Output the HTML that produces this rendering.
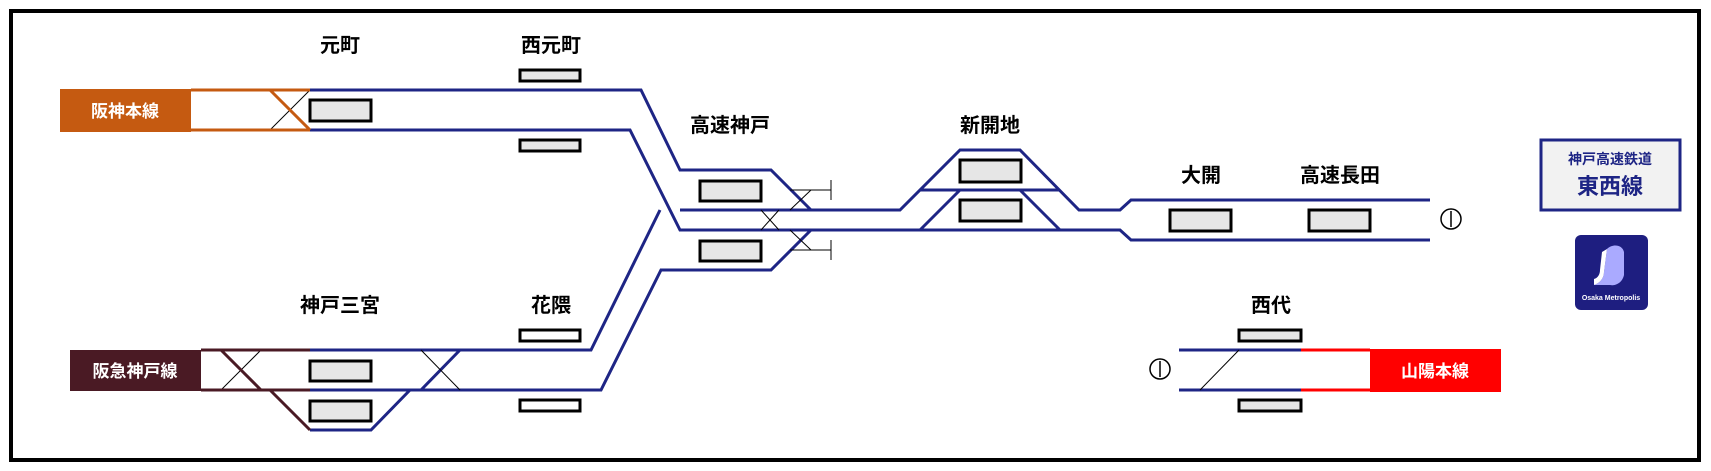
<!DOCTYPE html>
<html><head><meta charset="utf-8"><style>
html,body{margin:0;padding:0;background:#fff;}
svg{display:block;}
text{font-family:"Liberation Sans","Noto Sans CJK JP",sans-serif;font-weight:bold;}
</style></head><body>
<svg width="1711" height="471" viewBox="0 0 1711 471" xmlns="http://www.w3.org/2000/svg">
<rect x="11" y="11" width="1688" height="449" fill="#fff" stroke="#000" stroke-width="4"/>
<g fill="none" stroke="#1E2585" stroke-width="3">
<polyline points="310,90 641,90 680,170 771,170 811,210"/>
<polyline points="310,130 630,130 680,230 1120,230 1131,240 1430,240"/>
<polyline points="680,210 900,210 960,150 1020,150 1079,210 1120,210 1131,200 1430,200"/>
<polyline points="811,230 771,270 661,270 601,390 310,390"/>
<polyline points="310,350 591,350 660,210"/>
<line x1="920" y1="190" x2="1060" y2="190"/>
<line x1="960" y1="190" x2="920" y2="230"/>
<line x1="1020" y1="190" x2="1060" y2="230"/>
<polyline points="310,430 371,430 410,390"/>
<line x1="421" y1="390" x2="460" y2="350"/>
<line x1="1179" y1="350" x2="1301" y2="350"/>
<line x1="1179" y1="390" x2="1301" y2="390"/>
</g>
<g fill="none" stroke="#000" stroke-width="1">
<line x1="270" y1="130" x2="310" y2="90"/>
<line x1="790" y1="210" x2="811" y2="190"/>
<line x1="790" y1="230" x2="811" y2="250"/>
<line x1="761" y1="210" x2="779" y2="230"/>
<line x1="761" y1="230" x2="779" y2="210"/>
<line x1="221" y1="390" x2="261" y2="350"/>
<line x1="421" y1="350" x2="460" y2="390"/>
<line x1="1200" y1="390" x2="1239" y2="350"/>
<line x1="790" y1="190" x2="831" y2="190"/>
<line x1="831" y1="180" x2="831" y2="200"/>
<line x1="790" y1="250" x2="831" y2="250"/>
<line x1="831" y1="240" x2="831" y2="260"/>
</g>
<!-- Hanshin -->
<rect x="60" y="89" width="131" height="43" fill="#C55A11"/>
<g stroke="#C55A11" stroke-width="3" fill="none">
<line x1="191" y1="90" x2="310" y2="90"/><line x1="191" y1="130" x2="310" y2="130"/>
<line x1="270" y1="90" x2="310" y2="130"/>
</g>
<text x="125" y="117" fill="#fff" font-size="17" text-anchor="middle">阪神本線</text>
<!-- Hankyu -->
<rect x="70" y="350" width="131" height="41" fill="#4A1A24"/>
<g stroke="#4A1A24" stroke-width="3" fill="none">
<line x1="201" y1="350" x2="310" y2="350"/><line x1="201" y1="390" x2="310" y2="390"/>
<line x1="221" y1="350" x2="261" y2="390"/><line x1="270" y1="390" x2="310" y2="430"/>
</g>
<text x="135" y="377" fill="#fff" font-size="17" text-anchor="middle">阪急神戸線</text>
<!-- Sanyo -->
<g stroke="#FF0000" stroke-width="3"><line x1="1301" y1="350" x2="1370" y2="350"/><line x1="1301" y1="390" x2="1370" y2="390"/></g>
<rect x="1370" y="349" width="131" height="43" fill="#FF0000"/>
<text x="1435" y="377" fill="#fff" font-size="17" text-anchor="middle">山陽本線</text>
<!-- platforms -->
<g fill="#E6E6E6" stroke="#000" stroke-width="3">
<rect x="310" y="100" width="61" height="21"/>
<rect x="520" y="70" width="60" height="11"/>
<rect x="520" y="140" width="60" height="11"/>
<rect x="700" y="181" width="61" height="20"/>
<rect x="700" y="241" width="61" height="20"/>
<rect x="310" y="361" width="61" height="20"/>
<rect x="310" y="401" width="61" height="20"/>
<rect x="520" y="330" width="60" height="11" fill="#fff"/>
<rect x="520" y="400" width="60" height="11" fill="#fff"/>
<rect x="960" y="160" width="61" height="22"/>
<rect x="960" y="200" width="61" height="21"/>
<rect x="1170" y="210" width="61" height="21"/>
<rect x="1309" y="210" width="61" height="21"/>
<rect x="1239" y="330" width="62" height="11"/>
<rect x="1239" y="400" width="62" height="11"/>
</g>
<!-- end symbols -->
<g fill="#fff" stroke="#000" stroke-width="1.5">
<ellipse cx="1451" cy="219" rx="10" ry="10"/><line x1="1451" y1="211" x2="1451" y2="227"/>
<ellipse cx="1160" cy="369" rx="10" ry="10"/><line x1="1160" y1="361" x2="1160" y2="377"/>
</g>
<!-- station labels -->
<g font-size="20" fill="#000" text-anchor="middle">
<text x="340" y="52">元町</text>
<text x="551" y="52">西元町</text>
<text x="730" y="132">高速神戸</text>
<text x="990" y="132">新開地</text>
<text x="1201" y="182">大開</text>
<text x="1340" y="182">高速長田</text>
<text x="340" y="312">神戸三宮</text>
<text x="551" y="312">花隈</text>
<text x="1271" y="312">西代</text>
</g>
<!-- legend box -->
<rect x="1541" y="140" width="139" height="70" fill="#F2F2F2" stroke="#1E2585" stroke-width="3"/>
<text x="1610" y="164" fill="#1E2585" font-size="14" font-weight="normal" text-anchor="middle">神戸高速鉄道</text>
<text x="1610" y="194" fill="#1E2585" font-size="22" text-anchor="middle">東西線</text>
<!-- logo -->
<rect x="1575" y="235" width="73" height="75" rx="6" fill="#1E1E80"/>
<path d="M1607,249 C1612,244 1622,244 1624,252 L1624,275 C1622,284 1614,286 1610,285 L1594,285 C1600,283 1604,278 1604,272 Z" fill="#AAAAFF"/>
<path d="M1607,249 L1604,272 C1604,278 1600,283 1594,285 L1594,279 C1598,278 1600,274 1600,270 L1602,252 Z" fill="#fff"/>
<text x="1611" y="300" fill="#fff" font-size="7" text-anchor="middle">Osaka Metropolis</text>
</svg>
</body></html>
